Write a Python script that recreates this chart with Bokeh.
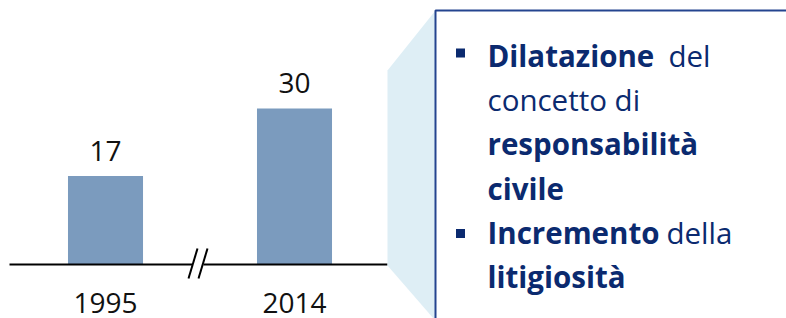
from bokeh.plotting import figure
from bokeh.models import Range1d, ColumnDataSource
from bokeh.core.properties import value
from bokeh.embed import file_html
from bokeh.resources import INLINE

# ---- data ----
years = ["1995", "2014"]
counts = [17, 30]
bold_lines = ["Dilatazione", "", "responsabilità", "civile", "Incremento", "litigiosità"]
plain_lines = ["del", "concetto di", "", "", "della", ""]

FONT = "Open Sans"
BAR_COLOR = "#7B9BBE"
NAVY = "#0B2A6F"

W, H = 786, 318
p = figure(width=W, height=H,
           x_range=Range1d(-0.5556, 3.6032), y_range=Range1d(-10.3846, 50.769),
           x_axis_location=None, y_axis_location=None,
           min_border=0, output_backend="svg", toolbar_location=None)
p.grid.visible = False
p.outline_line_color = None
p.background_fill_color = "white"
p.border_fill_color = "white"

# pixel-like ranges for decorations
p.extra_x_ranges["px"] = Range1d(0, W)
p.extra_y_ranges["px"] = Range1d(H, 0)

idx = list(range(len(years)))
src = ColumnDataSource(dict(x=idx, top=counts, year=years,
                            lab=[str(v) for v in counts], zero=[0] * len(idx)))

# bars
p.vbar(x="x", top="top", bottom=0, width=0.397, source=src,
       fill_color=BAR_COLOR, line_color=None)

# baseline with break
p.segment(x0=[9, 203], x1=[192, 387], y0=[264, 264], y1=[264, 264],
          line_color="black", line_width=2,
          x_range_name="px", y_range_name="px")
p.segment(x0=[188, 198], x1=[197, 207], y0=[278, 278], y1=[248, 248],
          line_color="black", line_width=2,
          x_range_name="px", y_range_name="px")

# value labels
p.text(x="x", y="top", text="lab", source=src, text_align="center",
       text_baseline="middle", y_offset=-25.4,
       text_font=value(FONT), text_font_size="28px", text_color="#111111")
# year labels
p.text(x="x", y="zero", text="year", source=src, text_align="center",
       text_baseline="middle", y_offset=38.6,
       text_font=value(FONT), text_font_size="28px", text_color="#111111")

# callout
p.patch(x=[387, 435, 435, 433, 387], y=[70, 10, 318, 318, 265],
        fill_color="#DEEEF5", line_color=None,
        x_range_name="px", y_range_name="px")
p.quad(left=[435], right=[820], top=[10], bottom=[340],
       fill_color="white", line_color="#24448F", line_width=2,
       x_range_name="px", y_range_name="px")

# bullets
p.scatter(x=[460, 460], y=[52.5, 233], marker="square", size=9,
          fill_color=NAVY, line_color=None,
          x_range_name="px", y_range_name="px")

anchors = [54.5, 98.5, 143, 187.5, 231.5, 275.5]
bold_src = ColumnDataSource(dict(x=[487] * 6, y=anchors, t=bold_lines))
p.text(x="x", y="y", text="t", source=bold_src, text_baseline="middle",
       text_font=value(FONT), text_font_style="bold", text_font_size="29.5px",
       text_color=NAVY, x_range_name="px", y_range_name="px")
plain_x = [668, 487, 487, 487, 666, 487]
plain_src = ColumnDataSource(dict(x=plain_x, y=anchors, t=plain_lines))
p.text(x="x", y="y", text="t", source=plain_src, text_baseline="middle",
       text_font=value(FONT), text_font_size="29.5px",
       text_color=NAVY, x_range_name="px", y_range_name="px")

open("out.html", "w").write(file_html(p, INLINE))
